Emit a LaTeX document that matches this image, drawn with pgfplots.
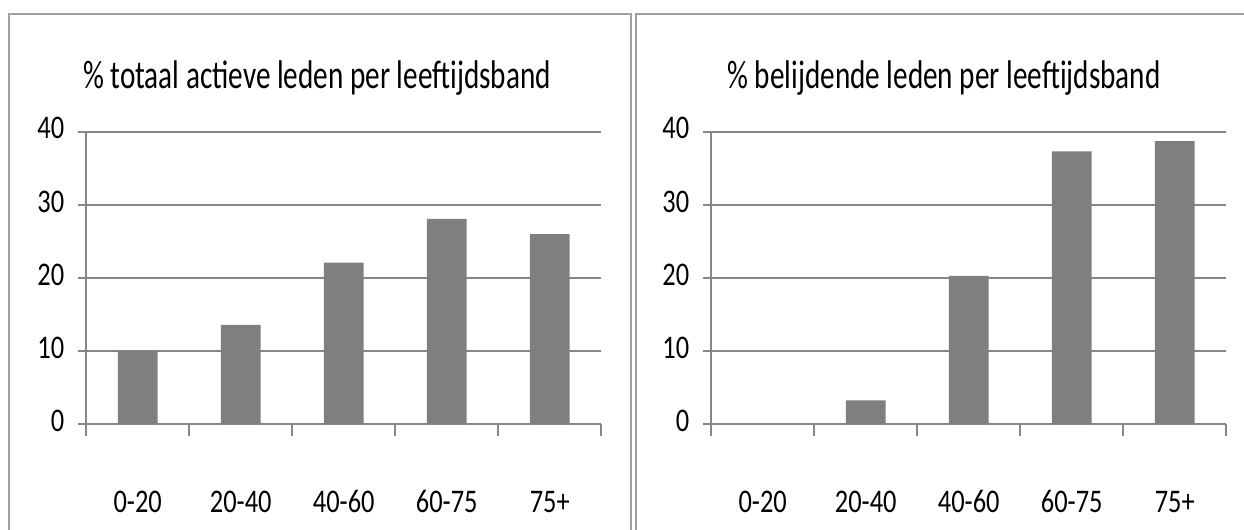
\documentclass[border=0pt]{standalone}
\usepackage{fontspec}
\setmainfont{Carlito}
\newfontfamily\titlefont{Carlito}[FakeStretch=0.73]
\newfontfamily\tickfont{Carlito}[FakeStretch=0.8,Numbers=Lining]
\usepackage{pgfplots}
\pgfplotsset{compat=1.18}

\definecolor{framegray}{HTML}{A0A0A0}
\definecolor{gridgray}{HTML}{868686}
\definecolor{bargray}{HTML}{7F7F7F}

% shared look of both panels
\pgfplotsset{
  leeftijd/.style={
    scale only axis, width=257.5pt, height=146.35pt, anchor=south west,
    xmin=-0.5, xmax=4.5, ymin=0, ymax=40,
    axis x line=bottom, axis y line=left,
    axis line style={-, draw=gridgray, line width=1pt},
    xtick={0,...,4}, xticklabels={0-20,20-40,40-60,60-75,75+},
    minor xtick={-0.5,0.5,...,4.5},
    ytick={0,10,...,40},
    ymajorgrids, major grid style={draw=gridgray, line width=1pt},
    tick align=outside, major tick length=4pt, minor tick length=6pt,
    tick style={draw=gridgray, line width=1pt},
    every major x tick/.append style={draw=none},
    tick label style={font=\tickfont\fontsize{16.5}{18}\selectfont, text=black},
    typeset ticklabels with strut,
    xticklabel style={yshift=-24pt},
    yticklabel style={xshift=-3.5pt},
    /pgf/number format/assume math mode=true,
    ybar, bar width=0.385,
  }
}

\begin{document}
\begin{tikzpicture}[x=0.5pt,y=0.5pt]
\path[use as bounding box] (0,0) rectangle (1244,530);
\clip (0,0) rectangle (1244,530);
\draw[framegray, line width=1.3pt] (9,-10) rectangle (631,516);
\draw[framegray, line width=1.3pt] (636,-10) rectangle (1262,516);

\node[anchor=base, font=\titlefont\fontsize{20}{24}\selectfont] at (317,441)
  {\% totaal actieve leden per leeftijdsband};
\node[anchor=base, font=\titlefont\fontsize{20}{24}\selectfont] at (944,441)
  {\% belijdende leden per leeftijdsband};

\begin{axis}[leeftijd, at={(83.7,144.3)}]
\addplot[fill=bargray, draw=none] coordinates {
  (0,10.0) (1,13.6) (2,22.1) (3,28.1) (4,26.0)
};
\end{axis}

\begin{axis}[leeftijd, at={(690.5,144.3)}]
\addplot[fill=bargray, draw=none] coordinates {
  (0,0) (1,3.3) (2,20.3) (3,37.3) (4,38.7)
};
\end{axis}
\end{tikzpicture}
\end{document}
